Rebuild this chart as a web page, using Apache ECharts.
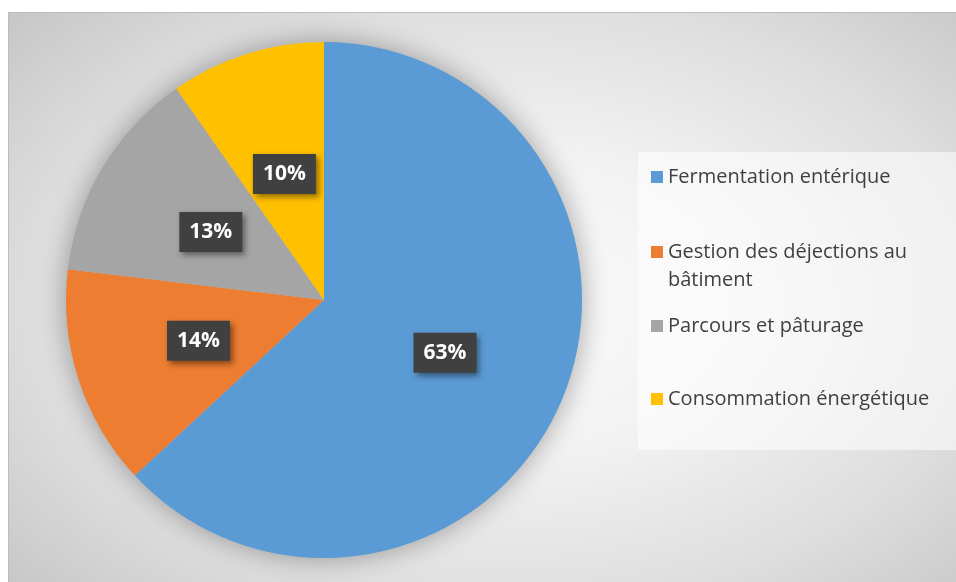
<!DOCTYPE html>
<html><head><meta charset="utf-8">
<script src="https://cdn.jsdelivr.net/npm/echarts@6/dist/echarts.min.js"></script>
<style>
html,body{margin:0;padding:0;background:#fff;width:956px;height:582px;overflow:hidden;}
#bg{position:absolute;left:8px;top:12px;width:960px;height:580px;border-top:1px solid #bcbcbc;border-left:1px solid #bcbcbc;
background:radial-gradient(ellipse 70% 75% at 52% 50%, #fbfbfb 0%, #f2f2f2 35%, #dedede 70%, #c6c6c6 100%);}
#chart{position:absolute;left:0;top:0;width:956px;height:582px;}
</style></head>
<body><div id="bg"></div><div id="chart"></div>
<script>
const categories = ['Fermentation entérique', 'Gestion des déjections au bâtiment', 'Parcours et pâturage', 'Consommation énergétique'];
const values = [63.1, 13.8, 13.4, 9.7];
const colors = ['#5B9BD5', '#ED7D31', '#A5A5A5', '#FFC000'];

const chart = echarts.init(document.getElementById('chart'), null, {renderer: 'canvas'});
const legendTops = [163, 238, 312, 385];
const legends = categories.map((c, i) => {
  const twoLine = i === 1;
  const ts = {fontFamily: 'Open Sans', fontSize: 20, color: '#404040', lineHeight: 28};
  if (twoLine) { ts.width = 272; ts.overflow = 'break'; }
  return {
    data: [c], orient: 'vertical', left: 651, top: legendTops[i], padding: 0,
    itemWidth: 12, itemHeight: twoLine ? 40 : 12, itemGap: 0, selectedMode: false,
    icon: twoLine ? 'path://M0 0H12V12H0Z M0 39.99H0.01V40H0Z' : 'rect',
    textStyle: ts
  };
});
chart.setOption({
  backgroundColor: 'transparent',
  animation: false,
  graphic: [{type: 'rect', z: -1, shape: {x: 638, y: 152, width: 318, height: 298}, style: {fill: 'rgba(255,255,255,0.55)'}}],
  legend: legends,
  series: [
    {type: 'pie', silent: true, center: [324, 300], radius: 258, z: 1,
     label: {show: false}, labelLine: {show: false},
     data: [{value: 1, name: '_shadow', itemStyle: {color: '#bbbbbb', shadowBlur: 28, shadowColor: 'rgba(0,0,0,0.35)'}}]},
    {type: 'pie', center: [324, 300], radius: 258, startAngle: 90, clockwise: true, z: 2,
     data: categories.map((c, i) => ({name: c, value: values[i], itemStyle: {color: colors[i]}})),
     label: {show: true, position: 'inside',
       formatter: p => Math.round(p.value) + '%',
       color: '#ffffff', fontFamily: 'Open Sans', fontWeight: 'bold', fontSize: 21,
       backgroundColor: '#404040', padding: [10, 10, 9, 10],
       shadowBlur: 6, shadowOffsetX: 3, shadowOffsetY: 3, shadowColor: 'rgba(0,0,0,0.45)'},
     labelLine: {show: false},
     emphasis: {disabled: true}}
  ]
});
</script></body></html>
